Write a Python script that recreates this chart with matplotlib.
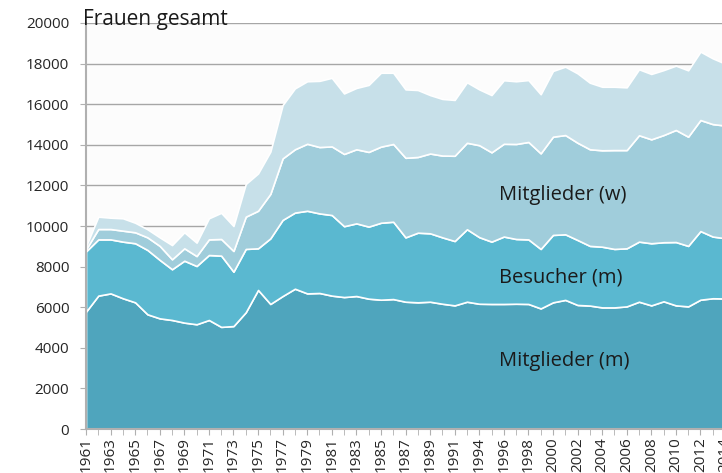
import numpy as np
import matplotlib.pyplot as plt

plt.rcParams['font.family'] = ['Open Sans', 'DejaVu Sans']

# categories (one year between 1991 and 1994 is missing in the source)
years = list(range(1961, 1992)) + list(range(1993, 2015))

# layer values
mitglieder_m = [5780, 6570, 6680, 6440, 6240, 5650, 5450, 5370, 5240, 5160,
                5370, 5030, 5070, 5750, 6850, 6160, 6550, 6910, 6680, 6700,
                6570, 6500, 6550, 6420, 6370, 6400, 6270, 6240, 6270, 6170,
                6090, 6270, 6170, 6160, 6160, 6170, 6160, 5940, 6240, 6360,
                6110, 6080, 5990, 5990, 6040, 6270, 6090, 6290, 6090, 6040,
                6370, 6440, 6430]
besucher_m = [2970, 2770, 2660, 2790, 2910, 3170, 2880, 2500, 3050, 2870,
              3200, 3510, 2680, 3120, 2050, 3230, 3750, 3750, 4070, 3920,
              3970, 3490, 3580, 3550, 3790, 3810, 3170, 3430, 3370, 3270,
              3170, 3570, 3280, 3070, 3320, 3190, 3180, 2930, 3320, 3230,
              3200, 2940, 2990, 2880, 2860, 2960, 3060, 2910, 3120, 2980,
              3380, 3040, 2970]
mitglieder_w = [100, 510, 510, 540, 540, 620, 690, 490, 610, 490,
                770, 820, 1020, 1590, 1850, 2190, 3030, 3120, 3300, 3270,
                3380, 3560, 3650, 3680, 3750, 3830, 3920, 3730, 3930, 4030,
                4200, 4260, 4530, 4400, 4570, 4680, 4800, 4710, 4840, 4890,
                4790, 4760, 4750, 4870, 4840, 5240, 5120, 5280, 5520, 5380,
                5470, 5540, 5550]
besucher_w = [150, 610, 560, 610, 470, 400, 420, 700, 790, 660,
              1040, 1290, 1230, 1610, 1840, 2080, 2630, 3000, 3080, 3260,
              3380, 2980, 3020, 3300, 3640, 3510, 3370, 3300, 2880, 2790,
              2750, 2980, 2750, 2820, 3130, 3090, 3050, 2910, 3240, 3370,
              3420, 3280, 3130, 3120, 3090, 3250, 3220, 3200, 3170, 3270,
              3370, 3240, 3050]

colors = ['#4fa5bd', '#5ab8d0', '#a0cddb', '#c7e0e9']

fig = plt.figure(figsize=(7.22, 4.73), dpi=100)
# the plot area runs a little past the right edge, as in the cropped original
ax = fig.add_axes([86 / 722, 44 / 473, 639 / 722, 406 / 473])
ax.set_facecolor('#fcfcfc')

x = np.arange(len(years))
ax.stackplot(x, mitglieder_m, besucher_m, mitglieder_w, besucher_w,
             colors=colors, edgecolor='white', linewidth=1.2, zorder=2)

ax.set_xlim(0, len(years) - 1)
ax.set_ylim(0, 20000)
ax.set_yticks(range(0, 20001, 2000))
ax.grid(axis='y', color='#a6a6a6', linewidth=1, zorder=0)
ax.set_axisbelow(True)

ax.set_xticks(x, minor=True)
ax.set_xticks(x[::2])
ax.set_xticklabels([str(y) for y in years[::2]], rotation=90)

for s in ['top', 'right']:
    ax.spines[s].set_visible(False)
for s in ['left', 'bottom']:
    ax.spines[s].set_color('#b0b0b0')
    ax.spines[s].set_linewidth(1.5)
    ax.spines[s].set_zorder(3)

ax.tick_params(axis='both', which='both', color='#b0b0b0', length=4,
               labelsize=11, labelcolor='#262626')
ax.tick_params(axis='x', pad=2)
ax.tick_params(axis='y', pad=8)

ax.text(33.6, 11550, 'Mitglieder (w)', fontsize=14.5, color='#1a1a1a',
        va='center', ha='left', zorder=4)
ax.text(33.6, 7480, 'Besucher (m)', fontsize=14.5, color='#1a1a1a',
        va='center', ha='left', zorder=4)
ax.text(33.6, 3350, 'Mitglieder (m)', fontsize=14.5, color='#1a1a1a',
        va='center', ha='left', zorder=4)

fig.text(83 / 722, 1 - 19 / 473, 'Frauen gesamt', fontsize=15,
         color='#1a1a1a', va='center', ha='left')

fig.savefig('out.png', dpi=100)
